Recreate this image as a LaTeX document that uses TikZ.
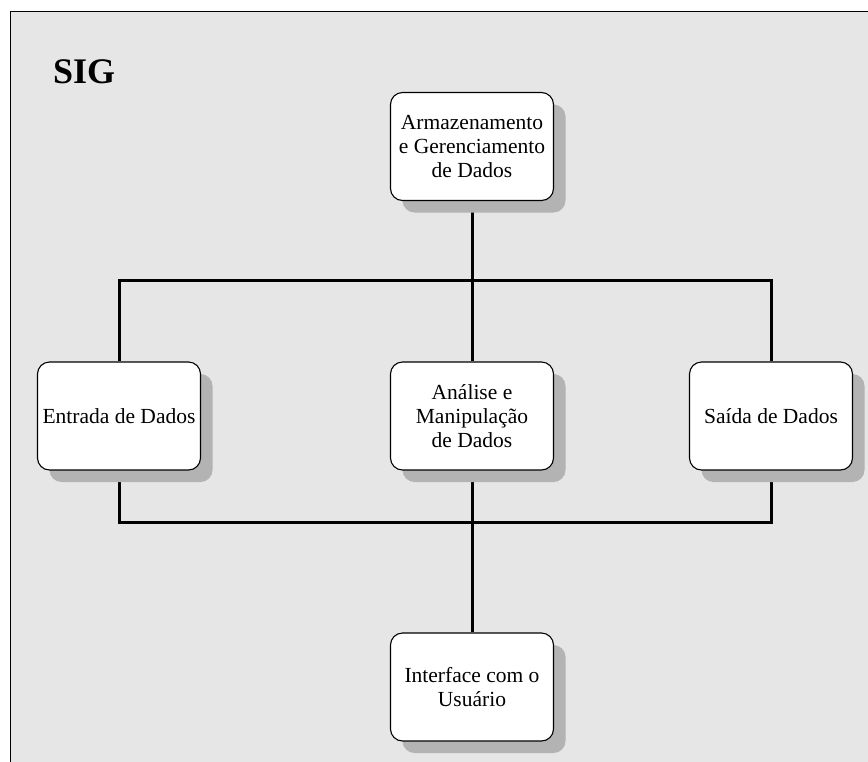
\documentclass[tikz,border=0pt]{standalone}
\usepackage{fontspec}
\setmainfont{Liberation Serif}
\usetikzlibrary{shadows}
\definecolor{bggray}{HTML}{E6E6E6}
\definecolor{shgray}{HTML}{B3B3B3}
\pgfdeclarelayer{bg}
\pgfdeclarelayer{lines}
\pgfsetlayers{bg,lines,main}
\tikzset{
  box/.style={draw=black, line width=1.1pt, fill=white, rounded corners=12pt,
    minimum width=163pt, minimum height=108pt, inner sep=2pt, align=center,
    font=\fontsize{21.5}{24}\selectfont,
    drop shadow={shadow xshift=12pt, shadow yshift=-12pt, fill=shgray, opacity=1}},
  conn/.style={line width=3pt, black},
}
\begin{document}
\begin{tikzpicture}[x=1pt,y=-1pt]
\useasboundingbox (0,0) rectangle (868,761);
\clip (0,0) rectangle (868,761);
\begin{pgfonlayer}{bg}
\draw[fill=bggray, draw=black, line width=1pt] (10.5,11) rectangle (900,800);
\end{pgfonlayer}
\node[anchor=base west, inner sep=0pt, font=\fontsize{36}{40}\selectfont\bfseries] (sig) at (53,83) {SIG};
\node[box] (arm) at (472,146.5) {Armazenamento\\e Gerenciamento\\de Dados};
\node[box] (ent) at (119,416) {Entrada de Dados};
\node[box] (ana) at (472,416) {Análise e\\Manipulação\\de Dados};
\node[box] (sai) at (771,416) {Saída de Dados};
\node[box] (int) at (472,687) {Interface com o\\Usuário};
\coordinate (tl) at (119,280);
\coordinate (tm) at (472,280);
\coordinate (tr) at (771,280);
\coordinate (bl) at (119,522);
\coordinate (br) at (771,522);
\begin{pgfonlayer}{lines}
\draw[conn] (arm.south) -- (tm);
\draw[conn, line cap=rect] (tl) -- (tr);
\draw[conn] (tl) -- (ent.north);
\draw[conn] (tm) -- (ana.north);
\draw[conn] (tr) -- (sai.north);
\draw[conn] (ent.south) -- (bl);
\draw[conn] (sai.south) -- (br);
\draw[conn, line cap=rect] (bl) -- (br);
\draw[conn] (ana.south) -- (int.north);
\end{pgfonlayer}
\end{tikzpicture}
\end{document}
